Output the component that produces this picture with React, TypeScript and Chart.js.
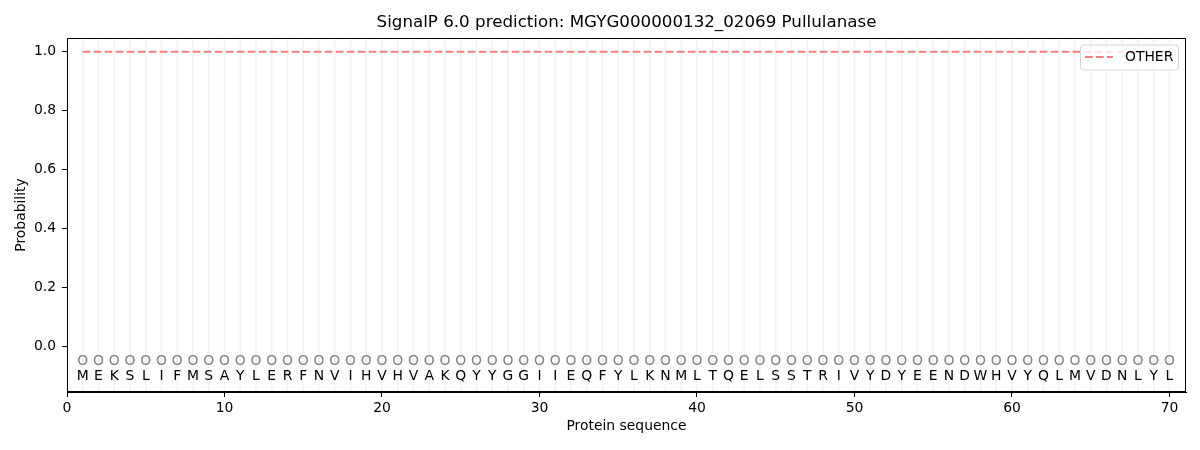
import React, { useEffect, useRef } from "react";
import { Chart, registerables } from "chart.js";

Chart.register(...registerables);

const chartTitle = "SignalP 6.0 prediction: MGYG000000132_02069 Pullulanase";
const residues = [
  "M", "E", "K", "S", "L", "I", "F", "M", "S", "A",
  "Y", "L", "E", "R", "F", "N", "V", "I", "H", "V",
  "H", "V", "A", "K", "Q", "Y", "Y", "G", "G", "I",
  "I", "E", "Q", "F", "Y", "L", "K", "N", "M", "L",
  "T", "Q", "E", "L", "S", "S", "T", "R", "I", "V",
  "Y", "D", "Y", "E", "E", "N", "D", "W", "H", "V",
  "Y", "Q", "L", "M", "V", "D", "N", "L", "Y", "L",
];
const predictedLabels = "OOOOOOOOOOOOOOOOOOOOOOOOOOOOOOOOOOOOOOOOOOOOOOOOOOOOOOOOOOOOOOOOOOOOOO".split("");
const otherProb = [
  1.0, 1.0, 1.0, 1.0, 1.0, 1.0, 1.0, 1.0, 1.0, 1.0,
  1.0, 1.0, 1.0, 1.0, 1.0, 1.0, 1.0, 1.0, 1.0, 1.0,
  1.0, 1.0, 1.0, 1.0, 1.0, 1.0, 1.0, 1.0, 1.0, 1.0,
  1.0, 1.0, 1.0, 1.0, 1.0, 1.0, 1.0, 1.0, 1.0, 1.0,
  1.0, 1.0, 1.0, 1.0, 1.0, 1.0, 1.0, 1.0, 1.0, 1.0,
  1.0, 1.0, 1.0, 1.0, 1.0, 1.0, 1.0, 1.0, 1.0, 1.0,
  1.0, 1.0, 1.0, 1.0, 1.0, 1.0, 1.0, 1.0, 1.0, 1.0,
];
const xTicks = [0, 10, 20, 30, 40, 50, 60, 70];
const yTicks = [0, 0.2, 0.4, 0.6, 0.8, 1.0];
const seriesName = "OTHER";
const labelRowY = -0.1;
const predRowY = -0.05;

const FONT = "'DejaVu Sans', sans-serif";
const LINE_COLOR = "#f08080";
const SMALL = 13.9;
const BIG = 16.7;
const DASH = [7.7, 3.3];

const overlayPlugin = {
  id: "overlay",
  beforeDatasetsDraw(chart: any) {
    const { ctx, chartArea, scales } = chart;
    ctx.save();
    ctx.beginPath();
    ctx.rect(chartArea.left, chartArea.top, chartArea.right - chartArea.left, chartArea.bottom - chartArea.top);
    ctx.clip();
    ctx.strokeStyle = "rgba(220,220,220,0.38)";
    ctx.lineWidth = 1.5;
    residues.forEach((_, i) => {
      const x = scales.x.getPixelForValue(i + 1);
      ctx.beginPath();
      ctx.moveTo(x, chartArea.top);
      ctx.lineTo(x, chartArea.bottom);
      ctx.stroke();
    });
    ctx.restore();
  },
  afterDraw(chart: any) {
    const { ctx, chartArea, scales } = chart;
    ctx.save();
    // title centred over the plot area
    ctx.font = `${BIG}px ${FONT}`;
    ctx.fillStyle = "#000000";
    ctx.textAlign = "center";
    ctx.textBaseline = "middle";
    ctx.fillText(chartTitle, (chartArea.left + chartArea.right) / 2, 23);

    ctx.font = `${SMALL}px ${FONT}`;
    residues.forEach((r, i) => {
      const x = scales.x.getPixelForValue(i + 1);
      ctx.fillStyle = "#000000";
      ctx.fillText(r, x, scales.y.getPixelForValue(labelRowY));
      ctx.fillStyle = "#808080";
      ctx.fillText(predictedLabels[i], x, scales.y.getPixelForValue(predRowY));
    });
    // frame
    ctx.strokeStyle = "#000000";
    ctx.lineWidth = 1;
    ctx.strokeRect(
      Math.round(chartArea.left) + 0.5,
      Math.round(chartArea.top) + 0.5,
      Math.round(chartArea.right - chartArea.left) - 1,
      Math.round(chartArea.bottom - chartArea.top) - 1
    );
    // legend
    const bw = 98, bh = 25;
    const bx = chartArea.right - 8 - bw;
    const by = chartArea.top + 6.5;
    ctx.beginPath();
    ctx.roundRect(bx + 0.5, by + 0.5, bw, bh, 3);
    ctx.fillStyle = "rgba(255,255,255,0.8)";
    ctx.fill();
    ctx.strokeStyle = "#d5d5d5";
    ctx.lineWidth = 1;
    ctx.stroke();
    const ly = by + bh / 2;
    ctx.beginPath();
    ctx.setLineDash(DASH);
    ctx.strokeStyle = LINE_COLOR;
    ctx.lineWidth = 2;
    ctx.moveTo(bx + 5, ly);
    ctx.lineTo(bx + 33, ly);
    ctx.stroke();
    ctx.setLineDash([]);
    ctx.fillStyle = "#000000";
    ctx.textAlign = "left";
    ctx.font = `${SMALL}px ${FONT}`;
    ctx.fillText(seriesName, bx + 45, ly + 0.5);
    ctx.restore();
  },
};

export default function App() {
  const canvasRef = useRef<HTMLCanvasElement | null>(null);

  useEffect(() => {
    document.body.style.margin = "0";
    const canvas = canvasRef.current;
    if (!canvas) return;
    const chart = new Chart(canvas, {
      type: "line",
      data: {
        datasets: [
          {
            label: seriesName,
            data: otherProb.map((v, i) => ({ x: i + 1, y: v })),
            borderColor: LINE_COLOR,
            borderWidth: 2,
            borderDash: DASH,
            pointRadius: 0,
            tension: 0,
            fill: false,
          },
        ],
      },
      plugins: [overlayPlugin],
      options: {
        animation: false,
        responsive: false,
        maintainAspectRatio: false,
        devicePixelRatio: 1,
        layout: { padding: { left: 0, right: 14, top: 38, bottom: 0 } },
        plugins: {
          legend: { display: false },
          tooltip: { enabled: false },
          title: { display: false },
        },
        scales: {
          x: {
            type: "linear",
            min: 0,
            max: 71.05,
            afterBuildTicks: (scale: any) => {
              scale.ticks = xTicks.map((v) => ({ value: v }));
            },
            afterFit: (scale: any) => {
              scale.height = 58;
            },
            grid: {
              display: true,
              drawOnChartArea: false,
              drawTicks: true,
              tickLength: 5,
              color: "#000000",
            },
            border: { display: true, color: "#000000" },
            ticks: {
              color: "#000000",
              font: { family: FONT, size: SMALL },
              padding: 3,
              maxRotation: 0,
              autoSkip: false,
            },
            title: {
              display: true,
              text: "Protein sequence",
              color: "#000000",
              font: { family: FONT, size: SMALL },
              padding: { top: 0, bottom: 15 },
            },
          },
          y: {
            type: "linear",
            min: -0.153,
            max: 1.047,
            afterBuildTicks: (scale: any) => {
              scale.ticks = yTicks.map((v) => ({ value: v }));
            },
            afterFit: (scale: any) => {
              scale.width = 67;
            },
            grid: {
              display: true,
              drawOnChartArea: false,
              drawTicks: true,
              tickLength: 5,
              color: "#000000",
            },
            border: { display: true, color: "#000000" },
            ticks: {
              color: "#000000",
              font: { family: FONT, size: SMALL },
              padding: 6,
              callback: (v: any) => Number(v).toFixed(1),
            },
            title: {
              display: true,
              text: "Probability",
              color: "#000000",
              font: { family: FONT, size: SMALL },
              padding: { top: 13, bottom: 0 },
            },
          },
        },
      },
    });
    return () => chart.destroy();
  }, []);

  return (
    <div style={{ width: 1200, height: 450, background: "#ffffff" }}>
      <canvas ref={canvasRef} width={1200} height={450} style={{ width: 1200, height: 450, display: "block" }} />
    </div>
  );
}
